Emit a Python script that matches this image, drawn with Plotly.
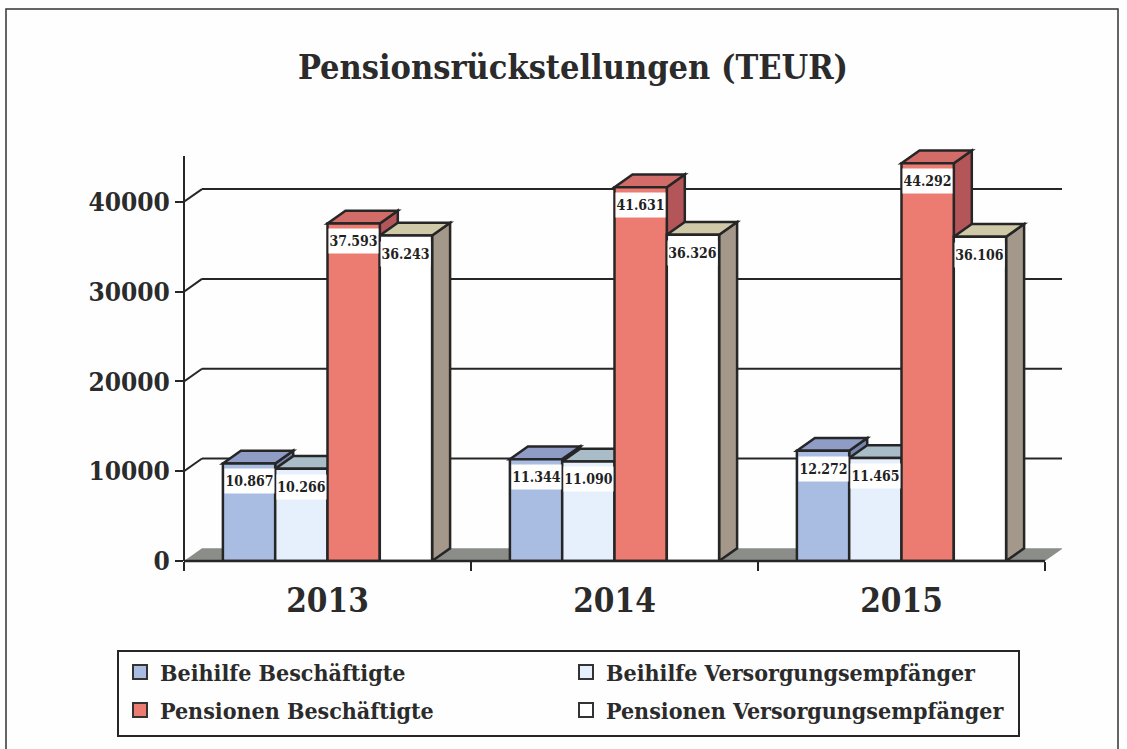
import plotly.graph_objects as go

years = ["2013", "2014", "2015"]
series_names = ["Beihilfe Beschäftigte", "Beihilfe Versorgungsempfänger",
                "Pensionen Beschäftigte", "Pensionen Versorgungsempfänger"]
beihilfe_b = [10867, 11344, 12272]
beihilfe_v = [10266, 11090, 11465]
pension_b = [37593, 41631, 44292]
pension_v = [36243, 36326, 36106]
series_values = [beihilfe_b, beihilfe_v, pension_b, pension_v]
y_ticks = [0, 10000, 20000, 30000, 40000]

front = ["#a9bde2", "#e6f0fc", "#ec7c72", "#ffffff"]
top = ["#8e9cc6", "#a9bdc9", "#d26c69", "#cfc9a8"]
side = ["#7687b0", "#8fa5b2", "#b4555a", "#a3988a"]
ink = "#262626"
serif = "DejaVu Serif Condensed, DejaVu Serif, serif"

W, H = 1127, 749
L, R, T, B = 184, 1062, 145, 561      # plot-area pixel box
PX_PER_CAT = 287.0
PX_PER_VAL = 89.8 / 10000
DX = 18 / PX_PER_CAT                  # oblique depth in data units
DY = 12.7 / PX_PER_VAL
BAR = 52.3 / PX_PER_CAT
centers = [0.5, 1.5, 2.5]
AXIS_TOP = 45100


def poly(pts):
    return "M " + " L ".join(f"{x:.5f},{y:.2f}" for x, y in pts) + " Z"


shapes = []
# floor
shapes.append(dict(type="path", layer="below", xref="x", yref="y",
                   path=poly([(0, 0), (3, 0), (3 + DX, DY), (DX, DY)]),
                   fillcolor="#8b8d88", line=dict(width=0)))
# back-wall gridlines and their slanted connectors
for v in y_ticks[1:]:
    shapes.append(dict(type="line", layer="below", xref="x", yref="y",
                       x0=DX, x1=3 + DX, y0=v + DY, y1=v + DY,
                       line=dict(color=ink, width=2)))
    shapes.append(dict(type="line", layer="below", xref="x", yref="y",
                       x0=0, x1=DX, y0=v, y1=v + DY,
                       line=dict(color=ink, width=2)))
# side and top faces, painted left to right
for c_i, c in enumerate(centers):
    for s_i, vals in enumerate(series_values):
        x0 = c + (s_i - 2) * BAR
        x1 = x0 + BAR
        v = vals[c_i]
        shapes.append(dict(type="path", layer="below", xref="x", yref="y",
                           path=poly([(x1, 0), (x1 + DX, DY), (x1 + DX, v + DY), (x1, v)]),
                           fillcolor=side[s_i], line=dict(color=ink, width=2.5)))
        shapes.append(dict(type="path", layer="below", xref="x", yref="y",
                           path=poly([(x0, v), (x1, v), (x1 + DX, v + DY), (x0 + DX, v + DY)]),
                           fillcolor=top[s_i], line=dict(color=ink, width=2.5)))

# axes lines, above the bars
shapes.append(dict(type="line", layer="above", xref="paper", yref="y", x0=0, x1=0,
                   y0=0, y1=AXIS_TOP, line=dict(color=ink, width=2)))
shapes.append(dict(type="line", layer="above", xref="x", yref="paper", x0=0, x1=3,
                   y0=0, y1=0, line=dict(color=ink, width=2.5)))

# outer page frame
FRAME = dict(l=6, r=1118, t=9, b=760)
shapes.append(dict(type="rect", xref="paper", yref="paper",
                   x0=(FRAME["l"] - L) / (R - L), x1=(FRAME["r"] - L) / (R - L),
                   y0=(B - FRAME["b"]) / (B - T), y1=(B - FRAME["t"]) / (B - T),
                   line=dict(color="#333333", width=1.5)))


def px_x(p):
    return (p - L) / (R - L)


def px_y(p):
    return (B - p) / (B - T)


# legend box
shapes.append(dict(type="rect", xref="paper", yref="paper",
                   x0=px_x(118), x1=px_x(1019), y0=px_y(736), y1=px_y(651),
                   line=dict(color=ink, width=2), fillcolor="rgba(0,0,0,0)"))

annotations = []
legend_pos = [(131, 672), (577, 672), (131, 710), (577, 710)]
for name, color, (lx, ly) in zip(series_names, front, legend_pos):
    shapes.append(dict(type="rect", xref="paper", yref="paper",
                       x0=px_x(lx + 2), x1=px_x(lx + 16), y0=px_y(ly + 7), y1=px_y(ly - 7),
                       fillcolor=color, line=dict(color="#333333", width=2)))
    annotations.append(dict(xref="paper", yref="paper", x=px_x(lx + 27), y=px_y(ly),
                            xanchor="left", yanchor="middle", showarrow=False, text=f"<b>{name}</b>",
                            font=dict(family=serif, size=23, color="#2b2b2b")))

# data labels on white bands
for s_i, vals in enumerate(series_values):
    for c_i, c in enumerate(centers):
        annotations.append(dict(x=c + (s_i - 1.5) * BAR, y=vals[c_i], xref="x", yref="y",
                                yanchor="top", xanchor="center", yshift=-5, showarrow=False,
                                text=f"<b>{vals[c_i] / 1000:.3f}</b>",
                                width=49, height=24, bgcolor="#ffffff", borderpad=0,
                                font=dict(family=serif, size=14, color="#222222")))

fig = go.Figure()
for s_i, (name, vals) in enumerate(zip(series_names, series_values)):
    fig.add_trace(go.Bar(name=name, x=centers, y=vals, width=BAR, offset=(s_i - 2) * BAR,
                         marker=dict(color=front[s_i], line=dict(color=ink, width=2.5)),
                         showlegend=False, cliponaxis=False))

fig.update_layout(
    width=W, height=H, barmode="overlay", showlegend=False,
    margin=dict(l=L, r=W - R, t=T, b=H - B, pad=0),
    paper_bgcolor="#fefefe", plot_bgcolor="rgba(0,0,0,0)",
    title=dict(text="<b>Pensionsrückstellungen (TEUR)</b>", x=573 / W, xanchor="center",
               y=1 - 67 / H, yanchor="middle",
               font=dict(family=serif, size=34, color="#2b2b2b")),
    xaxis=dict(range=[0, (R - L) / PX_PER_CAT], tickmode="array", tickvals=centers, ticktext=years,
               ticks="", showgrid=False, zeroline=False, showline=False, ticklabelstandoff=17,
               tickfont=dict(family=serif, size=33, color="#2b2b2b", weight="bold"),
               minor=dict(tickmode="array", tickvals=[0, 1, 2, 3], ticks="outside", ticklen=9,
                          tickwidth=2, tickcolor=ink, showgrid=False)),
    yaxis=dict(range=[0, (B - T) / PX_PER_VAL], tickmode="array", tickvals=y_ticks,
               ticktext=[str(v) for v in y_ticks], ticks="outside", ticklen=8, tickwidth=2,
               tickcolor=ink, showgrid=False, zeroline=False, showline=False,
               tickfont=dict(family=serif, size=26, color="#2b2b2b", weight="bold")),
    shapes=shapes, annotations=annotations,
)
fig.write_html("out.html", config={"displayModeBar": False},
               post_script="document.body.style.margin='0';document.documentElement.style.overflow='hidden';")
